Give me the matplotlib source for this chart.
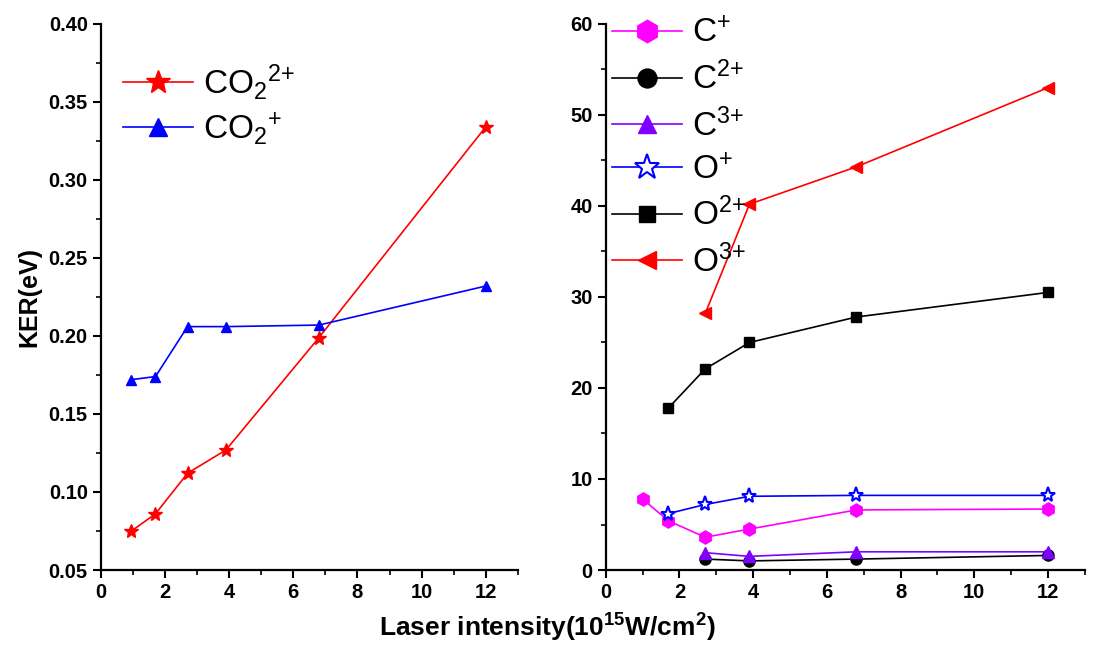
import matplotlib
matplotlib.use("Agg")
import matplotlib.pyplot as plt
from matplotlib.ticker import MultipleLocator

plt.rcParams["font.family"] = ["Liberation Sans", "DejaVu Sans"]
plt.rcParams["mathtext.fontset"] = "custom"
plt.rcParams["mathtext.rm"] = "Liberation Sans"
plt.rcParams["mathtext.it"] = "Liberation Sans"
plt.rcParams["mathtext.bf"] = "Liberation Sans:bold"

# left panel data (molecular ions)
x_co2 = [0.95, 1.7, 2.7, 3.9, 6.8, 12]
co2_2p = [0.075, 0.086, 0.112, 0.127, 0.199, 0.334]
co2_1p = [0.172, 0.174, 0.206, 0.206, 0.207, 0.232]

# right panel data (atomic ions)
x_cp = [1.0, 1.7, 2.7, 3.9, 6.8, 12]
c_1p = [7.8, 5.4, 3.6, 4.5, 6.6, 6.7]
x_c23 = [2.7, 3.9, 6.8, 12]
c_2p = [1.2, 1.0, 1.2, 1.6]
c_3p = [1.9, 1.5, 2.0, 2.0]
x_o12 = [1.7, 2.7, 3.9, 6.8, 12]
o_1p = [6.2, 7.2, 8.1, 8.2, 8.2]
o_2p = [17.8, 22.1, 25.0, 27.8, 30.5]
x_o3 = [2.7, 3.9, 6.8, 12]
o_3p = [28.2, 40.2, 44.3, 53.0]

fig = plt.figure(figsize=(10.94, 6.47), dpi=100)
ax1 = fig.add_axes([0.0923, 0.119, 0.381, 0.844])
ax2 = fig.add_axes([0.5537, 0.119, 0.438, 0.844])


def style(ax):
    for s in ["top", "right"]:
        ax.spines[s].set_visible(False)
    for s in ["left", "bottom"]:
        ax.spines[s].set_linewidth(1.6)
    ax.tick_params(which="major", direction="out", length=6, width=1.5,
                   labelsize=14.5)
    ax.tick_params(which="minor", direction="out", length=3.5, width=1.2)
    ax.set_xlim(0, 13)
    ax.xaxis.set_major_locator(MultipleLocator(2))
    ax.xaxis.set_minor_locator(MultipleLocator(1))


ax1.plot(x_co2, co2_2p, "-", color="red", marker="*", ms=10, lw=1.2,
         label=r"CO$_2{}^{\text{2+}}$")
ax1.plot(x_co2, co2_1p, "-", color="blue", marker="^", ms=7.5, lw=1.2,
         label=r"CO$_2{}^{\text{+}}$")
ax1.set_ylim(0.05, 0.40)
ax1.yaxis.set_major_locator(MultipleLocator(0.05))
ax1.yaxis.set_minor_locator(MultipleLocator(0.025))
ax1.yaxis.set_major_formatter(plt.FormatStrFormatter("%.2f"))
style(ax1)
ax1.set_ylabel("KER(eV)", fontsize=18, fontweight="bold", labelpad=5)
ax1.legend(loc="upper left", bbox_to_anchor=(-0.02, 0.985), frameon=False,
           fontsize=24, handlelength=2.1, markerscale=1.8, labelspacing=0.25,
           handletextpad=0.3)

ax2.plot(x_cp, c_1p, "-", color="#ff00ff", marker="h", ms=9.5, lw=1.2,
         label=r"C$^{\text{+}}$")
ax2.plot(x_c23, c_2p, "-", color="black", marker="o", ms=8, lw=1.2,
         label=r"C$^{\text{2+}}$")
ax2.plot(x_c23, c_3p, "-", color="#8000ff", marker="^", ms=8, lw=1.2,
         label=r"C$^{\text{3+}}$")
ax2.plot(x_o12, o_1p, "-", color="blue", marker="*", ms=11, lw=1.2,
         mfc="white", mew=1.5, label=r"O$^{\text{+}}$")
ax2.plot(x_o12, o_2p, "-", color="black", marker="s", ms=7, lw=1.2,
         label=r"O$^{\text{2+}}$")
ax2.plot(x_o3, o_3p, "-", color="red", marker="<", ms=8, lw=1.2,
         label=r"O$^{\text{3+}}$")
ax2.set_ylim(0, 60)
ax2.yaxis.set_major_locator(MultipleLocator(10))
ax2.yaxis.set_minor_locator(MultipleLocator(5))
style(ax2)
ax2.legend(loc="upper left", bbox_to_anchor=(-0.05, 1.065), frameon=False,
           fontsize=24, handlelength=2.1, markerscale=1.7, labelspacing=0.36,
           handletextpad=0.3)

for ax in (ax1, ax2):
    for lab in ax.get_xticklabels() + ax.get_yticklabels():
        lab.set_fontweight("bold")

fig.text(0.5, 0.004,
         r"Laser intensity(10$^{\mathbf{15}}$W/cm$^{\mathbf{2}}$)",
         ha="center", va="bottom", fontsize=19, fontweight="bold")

fig.savefig("out.png", dpi=100)
